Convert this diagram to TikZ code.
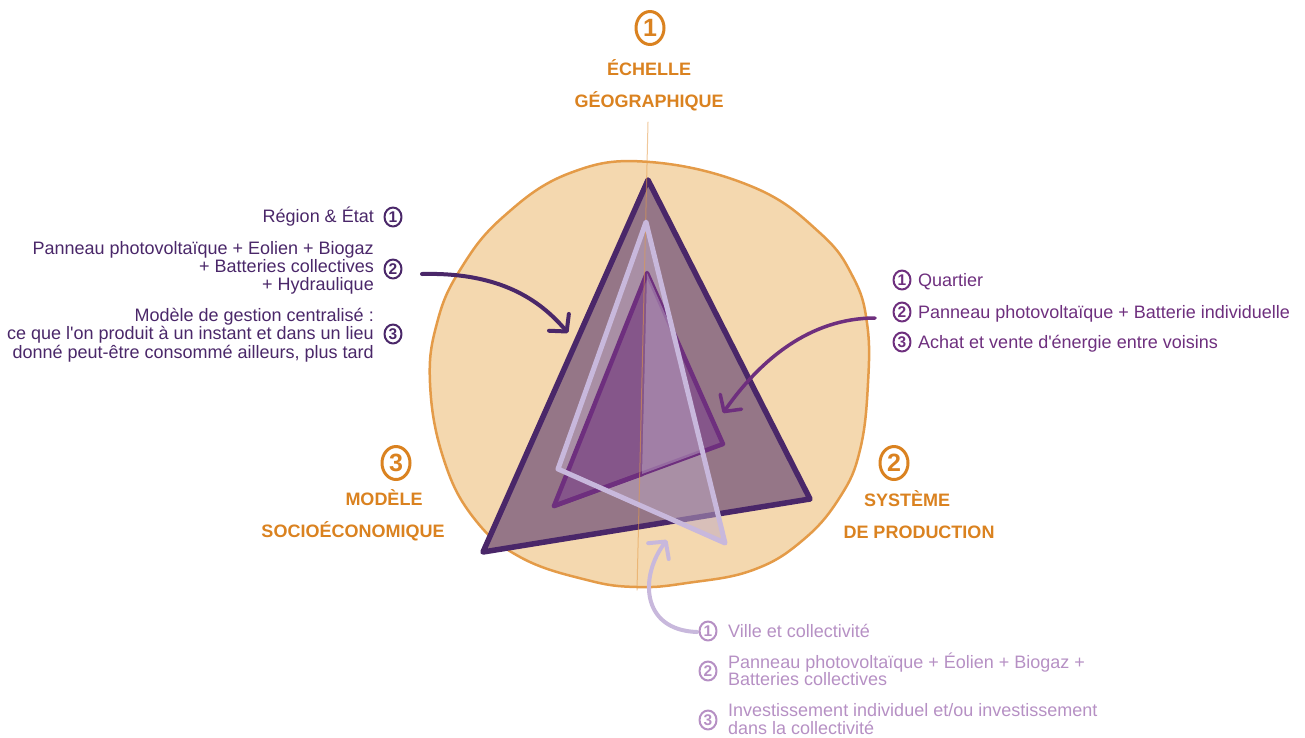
\documentclass[tikz,border=0pt]{standalone}
\usepackage{fontspec}
\setmainfont{Liberation Sans}
\newfontfamily\lib{Liberation Sans}
\usetikzlibrary{arrows.meta,shapes.geometric}
\definecolor{org}{HTML}{DA8220}
\definecolor{blobfill}{HTML}{F4D8AF}
\definecolor{blobline}{HTML}{E49B48}
\definecolor{dpur}{HTML}{4A2769}
\definecolor{mpur}{HTML}{6E2F7E}
\definecolor{lpur}{HTML}{C8B8DC}
\definecolor{btext}{HTML}{B690C4}
\definecolor{mauve}{HTML}{957687}
\definecolor{lavfill}{RGB}{189,168,195}
\definecolor{medfill}{HTML}{85568A}
\begin{document}
\begin{tikzpicture}[x=1pt,y=-1pt,line join=round,line cap=round,
  lbl/.style={font=\lib\bfseries\fontsize{18}{18}\selectfont, text=org, inner sep=0, anchor=base},
  txt/.style={font=\lib\fontsize{18}{18}\selectfont, inner sep=0},
  ltxt/.style={txt, text=dpur, anchor=base east},
  rtxt/.style={txt, text=mpur, anchor=base west},
  btxt/.style={txt, text=btext, anchor=base west},
  cnum/.style={ellipse, draw, line width=2pt, minimum width=17pt, minimum height=19pt, inner sep=0, font=\lib\bfseries\fontsize{15.5}{15.5}\selectfont},
  bnum/.style={ellipse, draw=org, text=org, line width=3pt, minimum width=28pt, minimum height=33pt, inner sep=0, font=\lib\bfseries\fontsize{25}{25}\selectfont},
  arr/.style={line width=4pt, -{Straight Barb[length=12pt,width=26pt,line cap=round,line join=round]}}
]
\useasboundingbox (0,0) rectangle (1305,737);

% blob
\draw[fill=blobfill, draw=blobline, line width=2.5pt]
  plot[smooth cycle, tension=0.7] coordinates {
  (650,162) (753,187) (820,233) (853,277) (867,323) (868,383) (860,450)
  (840,497) (803,540) (753,570) (687,583) (637,587) (587,580) (520,557)
  (473,517) (443,457) (430,383) (437,323) (460,270) (503,217) (570,173)};

% triangle vertices
\coordinate (T1) at (648,180); \coordinate (R1) at (810,499); \coordinate (L1) at (483,552);
\coordinate (T2) at (646,222); \coordinate (L2) at (558,469); \coordinate (R2) at (725,543);
\coordinate (T3) at (647,273); \coordinate (L3) at (554,506); \coordinate (R3) at (723,444);
\coordinate (D3) at (642,474); \coordinate (X1) at (672.9,331.3); \coordinate (X2) at (702.5,451.6);
\coordinate (VT) at (648,122); \coordinate (VB) at (637,590);

% big triangle
\fill[mauve] (T1) -- (R1) -- (L1) -- cycle;
\draw[dpur, line width=5.5pt] (T1) -- (R1) -- (L1) -- cycle;
% lavender fill
\fill[lavfill, fill opacity=0.5] (T2) -- (R2) -- (L2) -- cycle;
% medium triangle
\fill[medfill] (T3) -- (R3) -- (L3) -- cycle;
\draw[mpur, line width=4.5pt] (T3) -- (R3) -- (L3) -- cycle;
\draw[mpur, line width=4.5pt] (L3) -- (D3);
% light face
\fill[lavfill, fill opacity=0.5] (T3) -- (X1) -- (X2) -- (D3) -- cycle;
% vertical axis
\draw[blobline, line width=1pt, opacity=0.55] (VT) -- (VB);
% lavender stroke
\draw[lpur, line width=5pt] (T2) -- (R2) -- (L2) -- cycle;

% arrows
\coordinate (a1s) at (422,274); \coordinate (a1e) at (568,333);
\coordinate (a2s) at (875,318); \coordinate (a2e) at (723,413);
\coordinate (a3s) at (697,632); \coordinate (a3e) at (667,540);
\draw[arr, dpur] (a1s) .. controls (500,272) and (540,300) .. (a1e);
\draw[arr, mpur, line width=3.5pt] (a2s) .. controls (810,318) and (760,360) .. (a2e);
\draw[arr, lpur] (a3s) .. controls (640,630) and (640,575) .. (a3e);

% orange labels
\node[bnum] (n1) at (650,28) {1};
\node[lbl] (l1a) at (649,75) {ÉCHELLE};
\node[lbl] (l1b) at (649,107) {GÉOGRAPHIQUE};
\node[bnum] (n3) at (396,463) {3};
\node[lbl] (l3a) at (384,505) {MODÈLE};
\node[lbl] (l3b) at (353,537) {SOCIOÉCONOMIQUE};
\node[bnum] (n2) at (894,463) {2};
\node[lbl] (l2a) at (907,506) {SYSTÈME};
\node[lbl] (l2b) at (919,538) {DE PRODUCTION};

% left texts
\node[cnum, draw=dpur, text=dpur] (lc1) at (393,217) {1};
\node[cnum, draw=dpur, text=dpur] (lc2) at (393,269) {2};
\node[cnum, draw=dpur, text=dpur] (lc3) at (393,334) {3};
\node[ltxt] (lt1) at (374,222) {Région \& État};
\node[ltxt] (lt2a) at (374,254) {Panneau photovoltaïque + Eolien + Biogaz};
\node[ltxt] (lt2b) at (374,272) {+ Batteries collectives};
\node[ltxt] (lt2c) at (374,290) {+ Hydraulique};
\node[ltxt] (lt3a) at (374,321) {Modèle de gestion centralisé :};
\node[ltxt] (lt3b) at (374,339) {ce que l'on produit à un instant et dans un lieu};
\node[ltxt] (lt3c) at (374,358) {donné peut-être consommé ailleurs, plus tard};

% right texts
\node[cnum, draw=mpur, text=mpur] (rc1) at (902,280) {1};
\node[cnum, draw=mpur, text=mpur] (rc2) at (902,312) {2};
\node[cnum, draw=mpur, text=mpur] (rc3) at (902,342) {3};
\node[rtxt] (rt1) at (918,286) {Quartier};
\node[rtxt] (rt2) at (918,318) {Panneau photovoltaïque + Batterie individuelle};
\node[rtxt] (rt3) at (918,348) {Achat et vente d'énergie entre voisins};

% bottom texts
\node[cnum, draw=btext, text=btext] (bc1) at (708,631) {1};
\node[cnum, draw=btext, text=btext] (bc2) at (708,671) {2};
\node[cnum, draw=btext, text=btext] (bc3) at (708,720) {3};
\node[btxt] (bt1) at (728,637) {Ville et collectivité};
\node[btxt] (bt2a) at (728,668) {Panneau photovoltaïque + Éolien + Biogaz +};
\node[btxt] (bt2b) at (728,685) {Batteries collectives};
\node[btxt] (bt3a) at (728,716) {Investissement individuel et/ou investissement};
\node[btxt] (bt3b) at (728,734) {dans la collectivité};
\end{tikzpicture}
\end{document}
